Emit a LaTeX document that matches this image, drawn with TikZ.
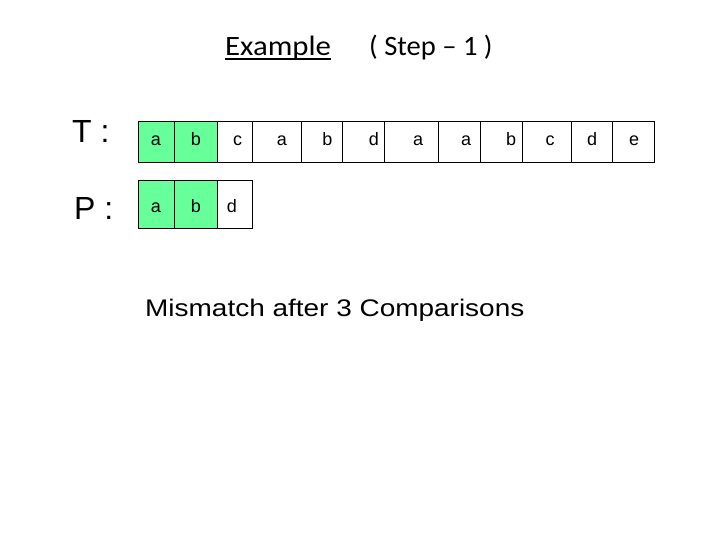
\documentclass[tikz,border=0pt]{standalone}
\usepackage{fontspec}
\usepackage{graphicx}
\setmainfont{Liberation Sans}
\newfontfamily\calibri{Carlito}
\definecolor{cellgreen}{RGB}{102,255,153}
\begin{document}
\begin{tikzpicture}[x=1pt,y=-1pt,
  cellbox/.style={draw=black, line width=0.9pt, inner sep=0pt},
  letter/.style={inner sep=0pt, anchor=base, font=\fontsize{18}{21.6}\selectfont},
  rowlabel/.style={inner sep=0pt, anchor=base west, font=\fontsize{32}{38}\selectfont},
  titletext/.style={inner sep=0pt, anchor=base west, font=\calibri\fontsize{28}{33.6}\selectfont},
  bodytext/.style={inner sep=0pt, anchor=base west, font=\fontsize{24}{28.8}\selectfont}]
\useasboundingbox (0,0) rectangle (720,540);

% title
\node[titletext] (ex) at (225,56) {\scalebox{1.1}[1]{Example}};
\draw[line width=2pt] ([yshift=-3.5pt]ex.base west) -- ([yshift=-3.5pt]ex.base east);
\node[titletext] (st) at (369,56) {\scalebox{1.02}[1]{( Step – 1 )}};

% row labels
\node[rowlabel] (tl) at (72,143) {T :};
\node[rowlabel] (pl) at (74,220) {P :};

% text row T
\foreach \i/\l/\r/\ch/\cx/\fc in {
  1/138/174/a/156/cellgreen, 2/174/217/b/196/cellgreen, 3/217/252/c/237.5/white,
  4/252/301/a/282/white, 5/301/342/b/327.5/white, 6/342/384/d/374/white,
  7/384/438/a/418/white, 8/438/480/a/466/white, 9/480/522/b/511/white,
  10/522/571/c/550/white, 11/571/612/d/592/white, 12/612/654/e/634/white} {
  \node[cellbox, fill=\fc, minimum width={\r-\l}, minimum height=41] (t\i) at ({(\l+\r)/2},141.5) {};
  \node[letter] (lt\i) at (\cx,146) {\ch};
}

% pattern row P
\foreach \i/\l/\r/\ch/\cx/\fc in {
  1/138/174/a/156/cellgreen, 2/174/217/b/196/cellgreen, 3/217/252/d/232/white} {
  \node[cellbox, fill=\fc, minimum width={\r-\l}, minimum height=48] (p\i) at ({(\l+\r)/2},204) {};
  \node[letter] (lp\i) at (\cx,212) {\ch};
}

% message
\node[bodytext] (msg) at (145,316) {\scalebox{1.165}[1]{Mismatch after 3 Comparisons}};
\end{tikzpicture}
\end{document}
